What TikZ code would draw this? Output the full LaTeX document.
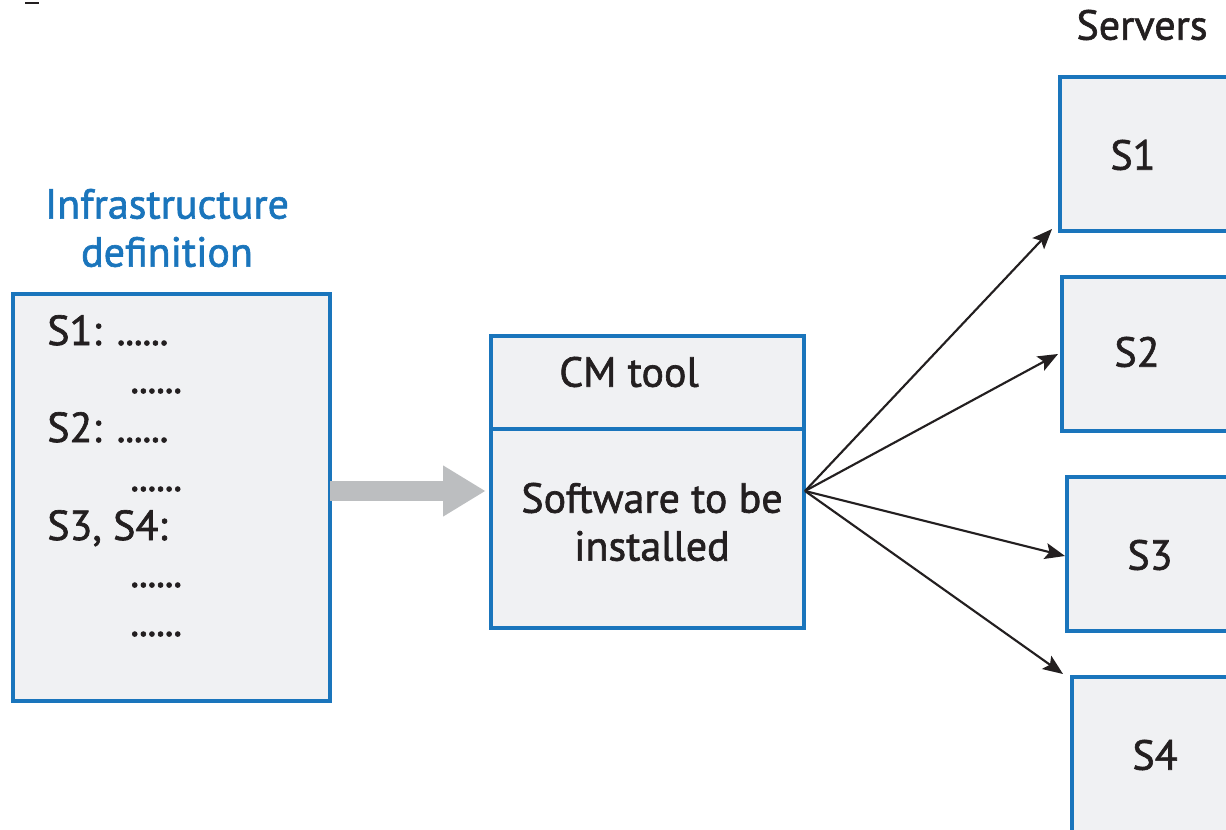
\documentclass[tikz,border=0pt]{standalone}
\usepackage{fontspec}
\setmainfont{PT Sans}
\newfontfamily\medfont[FakeBold=1.5]{PT Sans}
\usetikzlibrary{arrows.meta}
\definecolor{bblue}{HTML}{1A75BC}
\definecolor{bfill}{HTML}{F0F1F3}
\definecolor{ink}{HTML}{231F20}
\definecolor{garrow}{HTML}{BCBEC0}
\newcommand\sixdots{.\kern-0.3pt.\kern-0.3pt.\kern-0.3pt.\kern-0.3pt.\kern-0.3pt.}
\tikzset{
  box/.style={draw=bblue, fill=bfill, line width=3pt, inner sep=0pt, outer sep=0pt},
  txt/.style={text=ink, font=\medfont\fontsize{31.5}{36}\selectfont, inner sep=0pt},
  btxt/.style={text=bblue, font=\medfont\fontsize{31.5}{36}\selectfont, inner sep=0pt},
  arr/.style={draw=ink, line width=1.6pt, -{Stealth[length=15pt,width=12pt,inset=3pt]}},
  bigarrow/.style={draw=garrow, line width=15pt, -{Triangle[length=32pt,width=36pt]}, shorten >=4pt}
}
\begin{document}
\begin{tikzpicture}[x=0.75pt,y=-0.75pt]
\clip (0,0) rectangle (1226,830);
\fill[white] (0,0) rectangle (1226,830);
% small mark top-left
\draw[ink, line width=2pt] (25,3) -- (39,3);
% left box
\node[box, minimum width=237.75pt, minimum height=305.25pt] (left) at (171.5,497.5) {};
\node[btxt] (inf1) at (167,204) {Infrastructure};
\node[btxt] (inf2) at (167,252) {definition};
\node[txt, anchor=base west] (l1) at (47,345) {S1: \sixdots};
\node[txt, anchor=base west] (l2) at (130,393) {\sixdots};
\node[txt, anchor=base west] (l3) at (47,442) {S2: \sixdots};
\node[txt, anchor=base west] (l4) at (130,491) {\sixdots};
\node[txt, anchor=base west] (l5) at (47,540) {S3, S4:};
\node[txt, anchor=base west] (l6) at (130,587) {\sixdots};
\node[txt, anchor=base west] (l7) at (130,636) {\sixdots};
% CM box
\node[box, minimum width=234.75pt, minimum height=219pt] (cm) at (647.5,482) {};
\draw[bblue, line width=3pt] (cm.west |- 0,429) -- (cm.east |- 0,429);
\node[txt] (cmt) at (629,372) {CM tool};
\node[txt] (sw1) at (652,498) {Software to be};
\node[txt] (sw2) at (652,546) {installed};
\coordinate (hub) at (805,491);
% big grey arrow
\draw[bigarrow] (left.east |- hub) -- (cm.west |- hub);
% servers
\node[txt] (srv) at (1142,25) {Servers};
\node[box, minimum width=180pt, minimum height=115.5pt] (s1) at (1180,154) {};
\node[box, minimum width=180pt, minimum height=115.5pt] (s2) at (1182,354) {};
\node[box, minimum width=180pt, minimum height=115.5pt] (s3) at (1187,554) {};
\node[box, minimum width=180pt, minimum height=167.25pt] (s4) at (1192,788.5) {};
\node[txt] (s1t) at (1133,155) {S1};
\node[txt] (s2t) at (1137,352) {S2};
\node[txt] (s3t) at (1150,555) {S3};
\node[txt] (s4t) at (1155,755) {S4};
% connectors
\draw[arr] (hub) -- ([shift={(-8,-2)}]s1.south west);
\draw[arr] (hub) -- ([shift={(-4,0)}]s2.west);
\draw[arr] (hub) -- ([shift={(-2,2)}]s3.west);
\draw[arr] (hub) -- ([shift={(-9,-3)}]s4.north west);
\end{tikzpicture}
\end{document}
